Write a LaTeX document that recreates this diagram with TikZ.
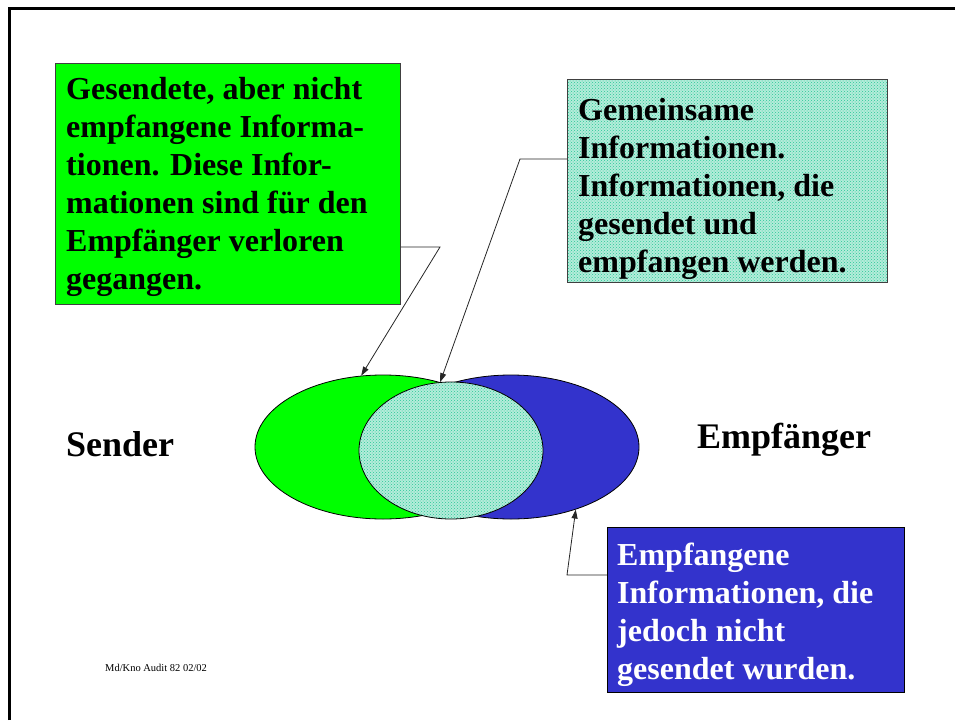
\documentclass[tikz,border=0pt]{standalone}
\usepackage{fontspec}
\setmainfont{Liberation Serif}
\usetikzlibrary{
  arrows.meta,
  patterns,
  shapes.geometric
}
\definecolor{sentgreen}{RGB}{0,255,0}
\definecolor{recvblue}{RGB}{51,51,204}
\definecolor{mint}{RGB}{40,200,150}
\tikzset{
  infobox/.style={anchor=north west, inner sep=0pt, draw=black!75, line width=0.8pt},
  infotext/.style={anchor=north west, inner sep=0pt, align=left, font=\fontsize{32}{38}\selectfont\bfseries},
  infoset/.style={ellipse, inner sep=0pt, draw=black, line width=0.8pt},
  shared/.style={preaction={fill=mint!35!white}, pattern=crosshatch dots, pattern color=mint},
  pointer/.style={draw=black!85, line width=0.8pt, -{Triangle[length=9pt,width=6pt]}},
  sidelabel/.style={anchor=base west, inner sep=0pt, font=\fontsize{36}{40}\selectfont\bfseries},
}

\begin{document}
\begin{tikzpicture}[x=1pt, y=-1pt]
\useasboundingbox (0,0) rectangle (955,720);
\draw[line width=3pt] (9,720) -- (9,8) -- (955,8);

% the two sets and their overlap
\node[infoset, fill=sentgreen, minimum width=256, minimum height=144] (sentset) at (383,447) {};
\node[infoset, fill=recvblue, minimum width=256, minimum height=144] (recvset) at (511,447) {};
\node[infoset, shared, minimum width=184, minimum height=137] (sharedset) at (451,450.5) {};

\node[sidelabel] (sender) at (66,456) {Sender};
\node[sidelabel] (receiver) at (697,448) {Empfänger};

% callouts
\node[infobox, fill=sentgreen, minimum width=345, minimum height=241] (lostbox) at (55,63) {};
\node[infotext] (losttext) at (66,77) {Gesendete, aber nicht\\empfangene Informa-\\tionen. Diese Infor-\\mationen sind für den\\Empfänger verloren\\gegangen.};

\node[infobox, shared, minimum width=320, minimum height=203] (sharedbox) at (567,79) {};
\node[infotext] (sharedtext) at (578,98) {Gemeinsame\\Informationen.\\Informationen, die\\gesendet und\\empfangen werden.};

\node[infobox, fill=recvblue, draw=black, minimum width=297, minimum height=165] (extrabox) at (607,527) {};
\node[infotext, text=white] (extratext) at (617,543) {Empfangene\\Informationen, die\\jedoch nicht\\gesendet wurden.};

\coordinate (lostknee) at (440,247);
\coordinate (sharedknee) at (520,159);
\coordinate (extraknee) at (567,575);
\draw[pointer] (lostbox.east |- lostknee) -- (lostknee) -- (sentset.107);
\draw[pointer] (sharedbox.west |- sharedknee) -- (sharedknee) -- (sharedset.99);
\draw[pointer] (extrabox.west |- extraknee) -- (extraknee) -- (recvset.-44);

\node[anchor=base west, inner sep=0pt, font=\fontsize{10.5}{12}\selectfont] (footer) at (105,671) {Md/Kno Audit 82 02/02};
\end{tikzpicture}
\end{document}
